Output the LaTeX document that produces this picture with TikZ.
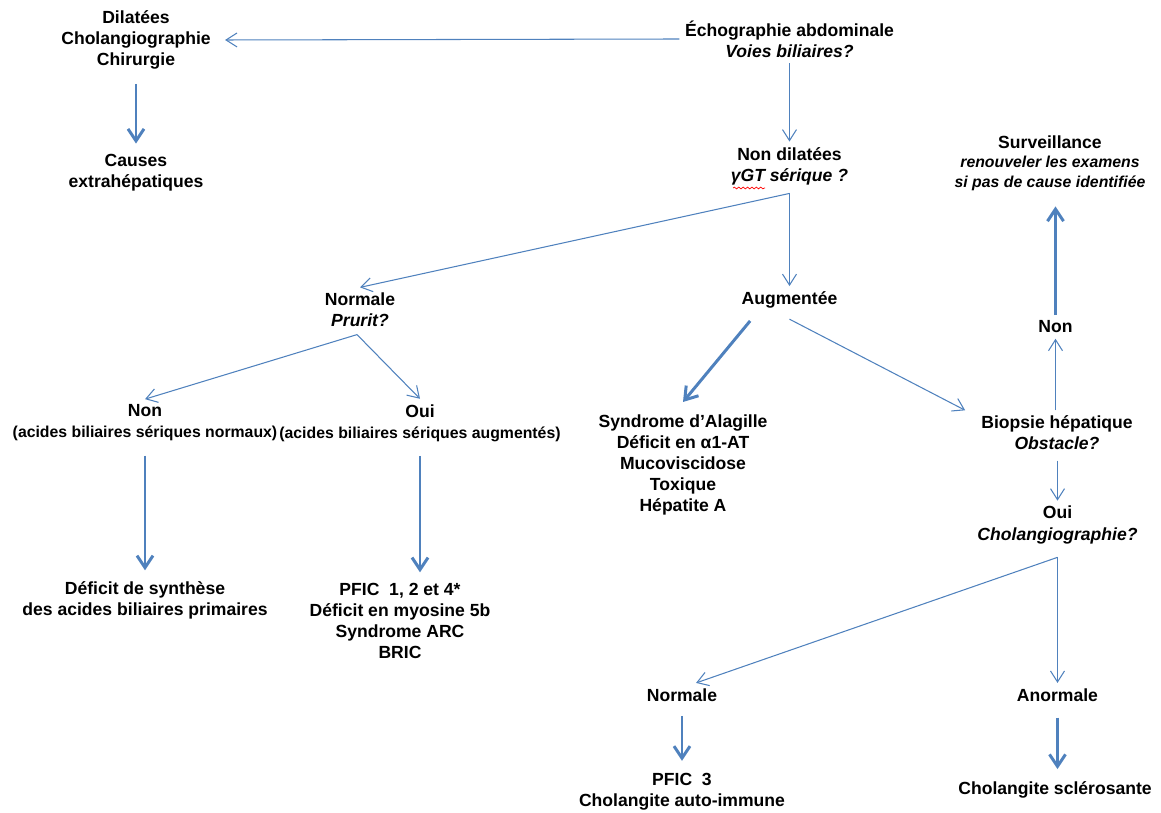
\documentclass[tikz,border=0pt]{standalone}
\usepackage{fontspec}
\setmainfont{Liberation Sans}
\usepackage{xcolor}
\usetikzlibrary{arrows.meta, positioning, calc, decorations.pathmorphing}
\definecolor{bleu}{HTML}{4F81BD}
\newcommand{\ptxt}{\fontsize{9}{10}\selectfont}

\begin{document}
\begin{tikzpicture}[x=0.02cm, y=-0.02cm,
    every node/.style={align=center, inner sep=3pt, font=\fontsize{10}{12}\selectfont\bfseries},
    fleche/.style={draw=bleu, line width=0.6pt, -{Straight Barb[length=2.2mm, width=2.8mm]}},
    grasse/.style={draw=bleu, line width=1.7pt, -{Straight Barb[length=2.4mm, width=3.2mm]}}]
    \useasboundingbox (0,0) rectangle (1161,813);

    % colonne du haut
    \node (echo) at (789.5,39) {Échographie abdominale\\ \textit{Voies biliaires?}};
    \node (dil) at (136,40) {Dilatées\\ Cholangiographie\\ Chirurgie};
    \node (causes) at (136,173) {Causes\\ extrahépatiques};
    \node (nondil) at (789.5,166) {Non dilatées\\ \textit{γGT sérique ?}};
    \node (surv) at (1050,163) {Surveillance\\[-1pt] {\ptxt\itshape renouveler les examens}\\[-1pt] {\ptxt\itshape si pas de cause identifiée}};

    % niveau gamma GT
    \node (normale) at (360,310) {Normale\\ \textit{Prurit?}};
    \node (augm) at (789.5,300) {Augmentée};
    \node (non2) at (1055.5,327) {Non};

    % prurit
    \node (non) at (145,423) {Non\\ {\ptxt (acides biliaires sériques normaux)}};
    \node (oui) at (420,423) {Oui\\ {\ptxt (acides biliaires sériques augmentés)}};
    \node (synd) at (683,465) {Syndrome d'Alagille\\ Déficit en α1-AT\\ Mucoviscidose\\ Toxique\\ Hépatite A};
    \node (biopsie) at (1057,433) {Biopsie hépatique\\ \textit{Obstacle?}};
    \node (oui2) at (1057.5,525) {Oui\\ \textit{Cholangiographie?}};

    % causes
    \node (deficit) at (145,600) {Déficit de synthèse\\ des acides biliaires primaires};
    \node (pfic) at (400,621) {PFIC\ \ 1, 2 et 4*\\ Déficit en myosine 5b\\ Syndrome ARC\\ BRIC};
    \node (normale2) at (682,695) {Normale};
    \node (anormale) at (1057.5,695) {Anormale};
    \node (pfic3) at (682,792) {PFIC\ \ 3\\ Cholangite auto-immune};
    \node (cholsc) at (1055,790) {Cholangite sclérosante};

    % soulignement du correcteur
    \draw[red, line width=0.4pt, decorate, decoration={snake, amplitude=0.5pt, segment length=2.5pt}]
        (733,188) -- (765,188);

    \coordinate (nd-split) at ($(nondil.south)+(0,3)$);
    \coordinate (pr-split) at ($(normale.south)+(-3,2)$);
    \coordinate (ch-split) at ($(oui2.south)+(0,8)$);

    \draw[fleche] (echo.west) -- ([xshift=5pt]dil.east);
    \draw[grasse] ([yshift=-5pt]dil.south) -- ([yshift=3pt]causes.north);
    \draw[fleche] (echo.south) -- (nondil.north);
    \draw[fleche] (nd-split) -- (normale.north);
    \draw[fleche] (nd-split) -- (augm.north);
    \draw[fleche] (pr-split) -- (non.north);
    \draw[fleche] (pr-split) -- (oui.north);
    \draw[grasse] ([yshift=-5pt]non.south) -- ([yshift=3pt]non.south |- deficit.north);
    \draw[grasse] ([yshift=-5pt]oui.south) -- ([yshift=3pt]oui.south |- pfic.north);
    \draw[grasse] ([xshift=8pt,yshift=-4pt]augm.south west) -- ([yshift=4pt]synd.north);
    \draw[fleche] ([yshift=-3pt]augm.south) -- ([xshift=-6pt]biopsie.north west);
    \draw[fleche] (non2.south |- biopsie.north) -- (non2.south);
    \draw[grasse] (non2.north) -- ([yshift=-6pt]non2.north |- surv.south);
    \draw[fleche] (oui2.north |- biopsie.south) ++(0,5) -- (oui2.north);
    \draw[fleche] (ch-split) -- ([xshift=8pt]normale2.north);
    \draw[fleche] (ch-split) -- (anormale.north);
    \draw[grasse] ([yshift=-5pt]normale2.south) -- ([yshift=4pt]pfic3.north);
    \draw[grasse] ([yshift=-6pt]anormale.south) -- ([yshift=4pt]anormale.south |- cholsc.north);
\end{tikzpicture}
\end{document}
